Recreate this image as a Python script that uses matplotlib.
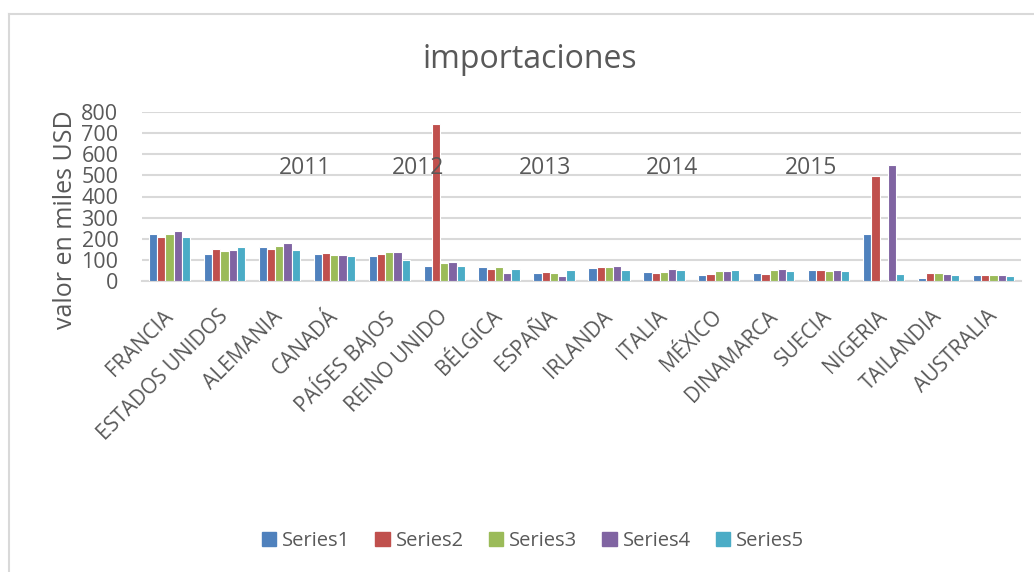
import matplotlib
matplotlib.use("Agg")
import matplotlib.pyplot as plt
import matplotlib.transforms as mtransforms
import numpy as np
from matplotlib.lines import Line2D

plt.rcParams['font.family'] = ['Open Sans', 'DejaVu Sans']

categories = ["FRANCIA", "ESTADOS UNIDOS", "ALEMANIA", "CANADÁ", "PAÍSES BAJOS",
              "REINO UNIDO", "BÉLGICA", "ESPAÑA", "IRLANDA", "ITALIA", "MÉXICO",
              "DINAMARCA", "SUECIA", "NIGERIA", "TAILANDIA", "AUSTRALIA"]
series1 = [223, 127, 162, 127, 119, 73, 67, 36, 62, 41, 29, 38, 51, 223, 14, 29]
series2 = [207, 150, 150, 133, 127, 741, 59, 41, 65, 38, 32, 33, 51, 497, 36, 29]
series3 = [223, 143, 168, 125, 136, 87, 65, 40, 67, 44, 46, 51, 46, 0, 40, 29]
series4 = [236, 146, 179, 125, 136, 89, 36, 24, 70, 55, 46, 55, 51, 550, 32, 29]
series5 = [209, 162, 147, 117, 101, 73, 55, 54, 54, 51, 51, 49, 46, 32, 29, 22]
series_names = ["Series1", "Series2", "Series3", "Series4", "Series5"]
colors = ["#4F81BD", "#C0504D", "#9BBB59", "#8064A2", "#4BACC6"]
yticks = [0, 100, 200, 300, 400, 500, 600, 700, 800]
year_labels = ["2011", "2012", "2013", "2014", "2015"]
year_x = [2.47, 4.53, 6.84, 9.15, 11.67]
year_y = 537

grey = "#595959"
fig = plt.figure(figsize=(10.34, 5.72), dpi=100)
ax = fig.add_axes([142/1034, 1-281/572, (1021-142)/1034, (281-112)/572])

x = np.arange(len(categories))
w = 0.15
all_series = [series1, series2, series3, series4, series5]
for i, (vals, c, name) in enumerate(zip(all_series, colors, series_names)):
    ax.bar(x + (i - 2) * w, vals, width=w, color=c, edgecolor='white', linewidth=0.8,
           label=name, zorder=3)

ax.set_xlim(-0.5, len(categories) - 0.5)
ax.set_ylim(0, 800)
ax.set_yticks(yticks)
ax.set_yticklabels([str(t) for t in yticks], fontsize=15.5, color=grey)
ax.grid(axis='y', color='#D9D9D9', linewidth=1.5, zorder=0)
ax.tick_params(axis='both', length=0)
ax.tick_params(axis='y', pad=17)
for s in ['top', 'right', 'left']:
    ax.spines[s].set_visible(False)
ax.spines['bottom'].set_color('#D9D9D9')
ax.spines['bottom'].set_linewidth(1.5)

ax.set_xticks(x)
ax.set_xticklabels(categories, rotation=45, ha='right', va='top', rotation_mode='anchor',
                   fontsize=15, color=grey)
ax.tick_params(axis='x', pad=18)
offset = mtransforms.ScaledTranslation(-7/100, 0, fig.dpi_scale_trans)
for lbl in ax.get_xticklabels():
    lbl.set_transform(lbl.get_transform() + offset)

ax.set_ylabel("valor en miles USD", fontsize=18, color=grey)
ax.yaxis.set_label_coords(-(142-66)/879, (281-220)/169)
ax.yaxis.label.set_va('center')

for lbl, xx in zip(year_labels, year_x):
    ax.text(xx, year_y, lbl, ha='center', va='center', fontsize=16.5, color=grey, zorder=4)

fig.text(530/1034, 1-60/572, "importaciones", ha='center', va='center', fontsize=23, color=grey)

handles = [plt.Rectangle((0, 0), 1, 1, color=c) for c in colors]
fig.legend(handles, series_names, loc='center', bbox_to_anchor=(533/1034, 1-541/572),
           ncol=5, frameon=False, fontsize=14.5, handlelength=0.7, handleheight=0.7,
           columnspacing=1.25, handletextpad=0.3, labelcolor=grey)

# chart border (left and top edges visible)
fig.add_artist(Line2D([9/1034, 9/1034], [0, 1-14/572], transform=fig.transFigure,
                      color='#D9D9D9', linewidth=1.5))
fig.add_artist(Line2D([9/1034, 1], [1-14/572, 1-14/572], transform=fig.transFigure,
                      color='#D9D9D9', linewidth=1.5))

fig.savefig("out.png", dpi=100)
